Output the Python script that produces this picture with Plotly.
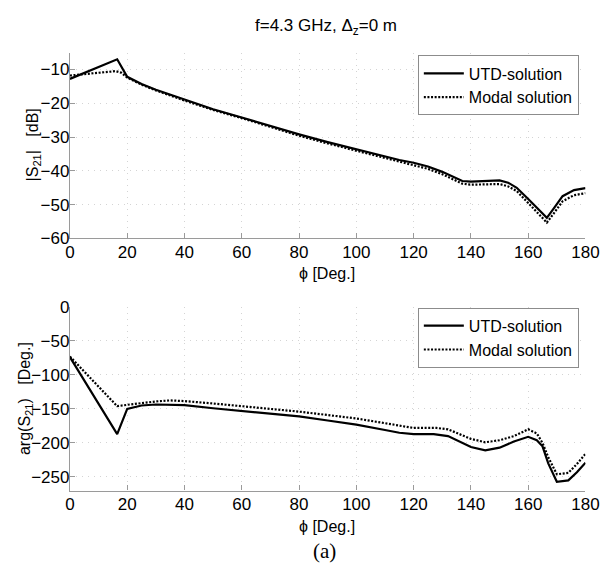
import plotly.graph_objects as go

# |S21| versus azimuth angle (dB)
phi_mag_utd = [0, 16.5, 20, 25, 30, 40, 50, 60, 70, 80, 90, 100, 110, 115, 120, 125,
               130, 135, 137, 140, 145, 150, 153, 156, 160, 163, 166.5, 169, 172, 176, 180]
mag_utd = [-12.8, -7.0, -12.2, -14.3, -16.0, -19.0, -21.8, -24.2, -26.8, -29.2, -31.5, -33.6,
           -35.8, -36.8, -37.6, -38.7, -40.3, -42.3, -43.0, -43.2, -43.0, -42.8, -43.5, -45.0,
           -48.3, -51.0, -53.9, -51.0, -47.5, -45.7, -45.1]

phi_mag_modal = [0, 8, 16, 18, 20, 25, 30, 40, 50, 60, 70, 80, 90, 100, 110, 115, 120, 125,
                 130, 135, 137, 140, 145, 150, 153, 156, 160, 163, 166.5, 169, 172, 176, 180]
mag_modal = [-11.8, -11.2, -10.5, -11.0, -12.4, -14.5, -16.2, -19.2, -22.0, -24.4, -27.1,
             -29.6, -31.9, -34.1, -36.3, -37.3, -38.3, -39.4, -41.0, -43.0, -43.8, -44.1,
             -44.0, -43.9, -44.6, -46.0, -49.5, -52.3, -55.3, -52.5, -49.0, -47.2, -46.6]

# arg(S21) versus azimuth angle (degrees)
phi_arg_utd = [0, 16.5, 20, 25, 30, 40, 50, 60, 70, 80, 90, 100, 110, 115, 120, 127, 132,
               136, 140, 145, 150, 155, 160, 163, 165, 167, 170, 174, 177, 180]
arg_utd = [-74, -187, -150, -145, -143.5, -144.5, -149, -153, -157, -161, -167, -173, -181,
           -185, -187, -187, -190, -198, -206, -211, -207, -198, -191, -196, -205, -230,
           -257, -255, -243, -229]

phi_arg_modal = [0, 16.5, 20, 25, 30, 35, 40, 50, 60, 70, 80, 90, 100, 110, 115, 120, 128,
                 132, 136, 140, 145, 150, 155, 160, 163, 165, 167, 170, 174, 177, 180]
arg_modal = [-73, -146, -144, -141, -139, -137.5, -138.5, -142, -146, -149, -154, -159, -164,
             -171, -175, -178, -178, -180, -187, -194, -199, -196, -190, -180, -186, -200,
             -221, -246, -244, -231, -216]

x_ticks = [0, 20, 40, 60, 80, 100, 120, 140, 160, 180]
mag_ticks = [-60, -50, -40, -30, -20, -10]
arg_ticks = [-250, -200, -150, -100, -50, 0]

W, H = 615, 576
FONT = "Liberation Sans, Arial, sans-serif"
DOT = "2px,1.6px"


def px_x(p):
    return p / W


def px_y(p):
    return 1 - p / H


fig = go.Figure()

fig.add_trace(go.Scatter(x=phi_mag_utd, y=mag_utd, mode="lines", name="UTD-solution",
                         line=dict(color="black", width=2.2), xaxis="x", yaxis="y",
                         legend="legend"))
fig.add_trace(go.Scatter(x=phi_mag_modal, y=mag_modal, mode="lines", name="Modal solution",
                         line=dict(color="black", width=2.2, dash=DOT), xaxis="x", yaxis="y",
                         legend="legend"))
fig.add_trace(go.Scatter(x=phi_arg_utd, y=arg_utd, mode="lines", name="UTD-solution",
                         line=dict(color="black", width=2.2), xaxis="x2", yaxis="y2",
                         legend="legend2"))
fig.add_trace(go.Scatter(x=phi_arg_modal, y=arg_modal, mode="lines", name="Modal solution",
                         line=dict(color="black", width=2.2, dash=DOT), xaxis="x2", yaxis="y2",
                         legend="legend2"))

axis_common = dict(
    showline=True, linecolor="#9a9a9a", linewidth=1.2,
    ticks="inside", ticklen=5, tickcolor="#9a9a9a", tickwidth=1,
    showgrid=True, gridcolor="#d4d4d4", griddash="1px,5px", gridwidth=1,
    zeroline=False, mirror=False,
    tickfont=dict(family=FONT, size=17, color="black"),
)
x_axis_style = dict(axis_common, ticklabelstandoff=-2)
y_axis_style = dict(axis_common, ticklabelstandoff=-4)

xdom = [px_x(67), px_x(599)]
legend_common = dict(xanchor="left", yanchor="top", bordercolor="#8c8c8c", borderwidth=1,
                     bgcolor="white", font=dict(family=FONT, size=16, color="black"),
                     tracegroupgap=0, itemwidth=40)
fig.update_layout(
    width=W, height=H,
    margin=dict(l=0, r=0, t=0, b=0),
    paper_bgcolor="white", plot_bgcolor="white",
    font=dict(family=FONT, color="black"),
    xaxis=dict(domain=xdom, range=[0, 180], tickvals=x_ticks, anchor="y", **x_axis_style),
    yaxis=dict(domain=[px_y(237.3), px_y(45)], range=[-60, -5], tickvals=mag_ticks,
               anchor="x", **y_axis_style),
    xaxis2=dict(domain=xdom, range=[0, 180], tickvals=x_ticks, anchor="y2", **x_axis_style),
    yaxis2=dict(domain=[px_y(498), px_y(308)], range=[-270, 0], tickvals=arg_ticks,
                anchor="x2", **y_axis_style),
    legend=dict(x=px_x(426), y=px_y(48), **legend_common),
    legend2=dict(x=px_x(426), y=px_y(309), **legend_common),
    showlegend=True,
)

sp = "\u00a0"
annotations = [
    dict(text="f=4.3 GHz, Δ<sub>z</sub>=0 m", x=px_x(331), y=px_y(19), font=dict(size=17)),
    dict(text="ϕ [Deg.]", x=px_x(332), y=px_y(274), font=dict(size=16)),
    dict(text="ϕ [Deg.]", x=px_x(332), y=px_y(535), font=dict(size=16)),
    dict(text="|S<sub>21</sub>|" + sp * 3 + "[dB]", x=px_x(29), y=px_y(141),
         textangle=-90, font=dict(size=16)),
    dict(text="arg(S<sub>21</sub>)" + sp * 3 + "[Deg.]", x=px_x(21), y=px_y(403),
         textangle=-90, font=dict(size=16)),
    dict(text="(a)", x=px_x(330), y=px_y(561),
         font=dict(family="Liberation Serif, Times New Roman, serif", size=21)),
]
for a in annotations:
    a.update(xref="paper", yref="paper", showarrow=False, xanchor="center", yanchor="middle")
    a["font"].setdefault("family", FONT)
    a["font"].setdefault("color", "black")
fig.update_layout(annotations=annotations)

fig.write_html("out.html")
